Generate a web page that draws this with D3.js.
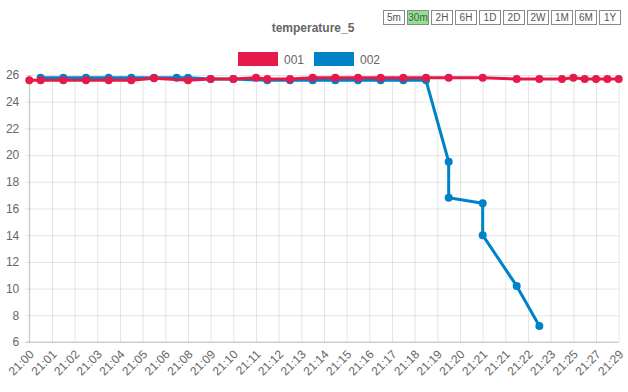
<!DOCTYPE html>
<html>
<head>
<meta charset="utf-8">
<script src="https://cdn.jsdelivr.net/npm/d3@7"></script>
<style>
  html, body { margin: 0; padding: 0; background: #fff; }
  svg { display: block; font-family: "Liberation Sans", Arial, Helvetica, sans-serif; }
</style>
</head>
<body>
<svg id="chart" width="628" height="392"></svg>
<script>
// ---- data ----
const chartTitle = "temperature_5";
const rangeButtons = ["5m", "30m", "2H", "6H", "1D", "2D", "2W", "1M", "6M", "1Y"];
const activeButton = "30m";
const xLabels = ["21:00","21:01","21:02","21:03","21:04","21:05","21:06","21:08","21:09","21:10",
                 "21:11","21:12","21:13","21:14","21:15","21:16","21:17","21:18","21:19","21:20",
                 "21:21","21:21","21:22","21:23","21:25","21:27","21:29"];
const yTicks = [6, 8, 10, 12, 14, 16, 18, 20, 22, 24, 26];
const seriesNames = ["001", "002"];
// sample positions along the time axis (in label slots) and readings
const slots001 = [0, 0.5, 1.5, 2.5, 3.5, 4.5, 5.5, 7, 8, 9, 10, 10.5, 11.5, 12.5, 13.5, 14.5, 15.5, 16.5,
                  17.5, 18.5, 20, 21.5, 22.5, 23.5, 24, 24.5, 25, 25.5, 26];
const values001 = [25.6, 25.6, 25.6, 25.6, 25.6, 25.6, 25.75, 25.6, 25.7, 25.7, 25.8, 25.7, 25.7, 25.8, 25.8, 25.8, 25.8, 25.8,
                   25.8, 25.8, 25.8, 25.7, 25.7, 25.7, 25.8, 25.7, 25.7, 25.7, 25.7];
const slots002 = [0.5, 1.5, 2.5, 3.5, 4.5, 5.5, 6.5, 7, 8, 9, 10.5, 11.5, 12.5, 13.5, 14.5, 15.5, 16.5, 17.5,
                  18.5, 18.5, 20, 20, 21.5, 22.5];
const values002 = [25.8, 25.8, 25.8, 25.8, 25.8, 25.8, 25.8, 25.8, 25.7, 25.7, 25.6, 25.6, 25.6, 25.6, 25.6, 25.6, 25.6, 25.6,
                   19.5, 16.8, 16.4, 14.0, 10.2, 7.2];
const colors = ["#e6194b", "#0082c8"];

// ---- layout ----
const svg = d3.select("#chart");
const plotLeft = 29.3, plotRight = 618.7, plotTop = 75, plotBottom = 342;

const x = d3.scaleLinear().domain([0, xLabels.length - 1]).range([plotLeft, plotRight]);
const y = d3.scaleLinear().domain([6, 26]).range([plotBottom, plotTop]);

// buttons
const btn = svg.append("g").attr("transform", "translate(383,10)");
rangeButtons.forEach((b, i) => {
  const g = btn.append("g").attr("transform", `translate(${i * 24},0)`);
  g.append("rect").attr("x", 0.5).attr("y", 0.5).attr("width", 21).attr("height", 14)
    .attr("fill", b === activeButton ? "#8fe38f" : "#fff").attr("stroke", "#8a8a8a");
  g.append("text").attr("x", 11).attr("y", 11.3).attr("text-anchor", "middle")
    .attr("font-size", 10).attr("fill", "#555").text(b);
});

// title
svg.append("text").attr("x", 313).attr("y", 32).attr("text-anchor", "middle")
  .attr("font-size", 12).attr("font-weight", "bold").attr("fill", "#666").text(chartTitle);

// legend
const legend = svg.append("g");
let lx = 238;
seriesNames.forEach((n, i) => {
  legend.append("rect").attr("x", lx).attr("y", 52).attr("width", 40).attr("height", 14).attr("fill", colors[i]);
  legend.append("text").attr("x", lx + 46).attr("y", 63.5).attr("font-size", 12).attr("fill", "#666").text(n);
  lx += 76;
});

// grid + axes
const yAxis = d3.axisLeft(y).tickValues(yTicks).tickSize(-(plotRight - plotLeft) - 4).tickPadding(6).tickFormat(d3.format("d"));
const gy = svg.append("g").attr("transform", `translate(${plotLeft - 4},0)`).call(yAxis);
gy.select(".domain").remove();
gy.selectAll("line").attr("stroke", "rgba(0,0,0,0.1)").attr("x1", 0).attr("x2", plotRight - plotLeft + 4);
gy.selectAll("text").attr("fill", "#666").attr("font-size", 12).attr("font-family", "Liberation Sans, Arial, sans-serif");

const xAxis = d3.axisBottom(x).tickValues(d3.range(xLabels.length)).tickFormat(i => xLabels[i])
  .tickSize(-(plotBottom - plotTop));
const gx = svg.append("g").attr("transform", `translate(0,${plotBottom})`).call(xAxis);
gx.select(".domain").remove();
gx.selectAll("line").attr("stroke", "rgba(0,0,0,0.1)");
gx.selectAll("text")
  .attr("fill", "#666").attr("font-size", 12).attr("font-family", "Liberation Sans, Arial, sans-serif")
  .attr("text-anchor", "end").attr("dy", "0.35em").attr("y", 0)
  .attr("transform", "translate(2,10) rotate(-45)");

// axis lines (slightly darker)
svg.append("line").attr("x1", plotLeft).attr("x2", plotLeft).attr("y1", plotTop).attr("y2", plotBottom).attr("stroke", "rgba(0,0,0,0.18)");
svg.append("line").attr("x1", plotLeft - 4).attr("x2", plotRight).attr("y1", plotBottom).attr("y2", plotBottom).attr("stroke", "rgba(0,0,0,0.18)");

// series: draw 002 first so 001 sits on top
const series = [
  { slots: slots001, values: values001, color: colors[0] },
  { slots: slots002, values: values002, color: colors[1] }
];
const line = d3.line().x(d => x(d[0])).y(d => y(d[1]));
series.slice().reverse().forEach(s => {
  const pts = s.slots.map((t, i) => [t, s.values[i]]);
  const g = svg.append("g");
  g.append("path").datum(pts).attr("d", line).attr("fill", "none")
    .attr("stroke", s.color).attr("stroke-width", 3).attr("stroke-linejoin", "round");
  g.selectAll("circle").data(pts).enter().append("circle")
    .attr("cx", d => x(d[0])).attr("cy", d => y(d[1])).attr("r", 4).attr("fill", s.color);
});
</script>
</body>
</html>
